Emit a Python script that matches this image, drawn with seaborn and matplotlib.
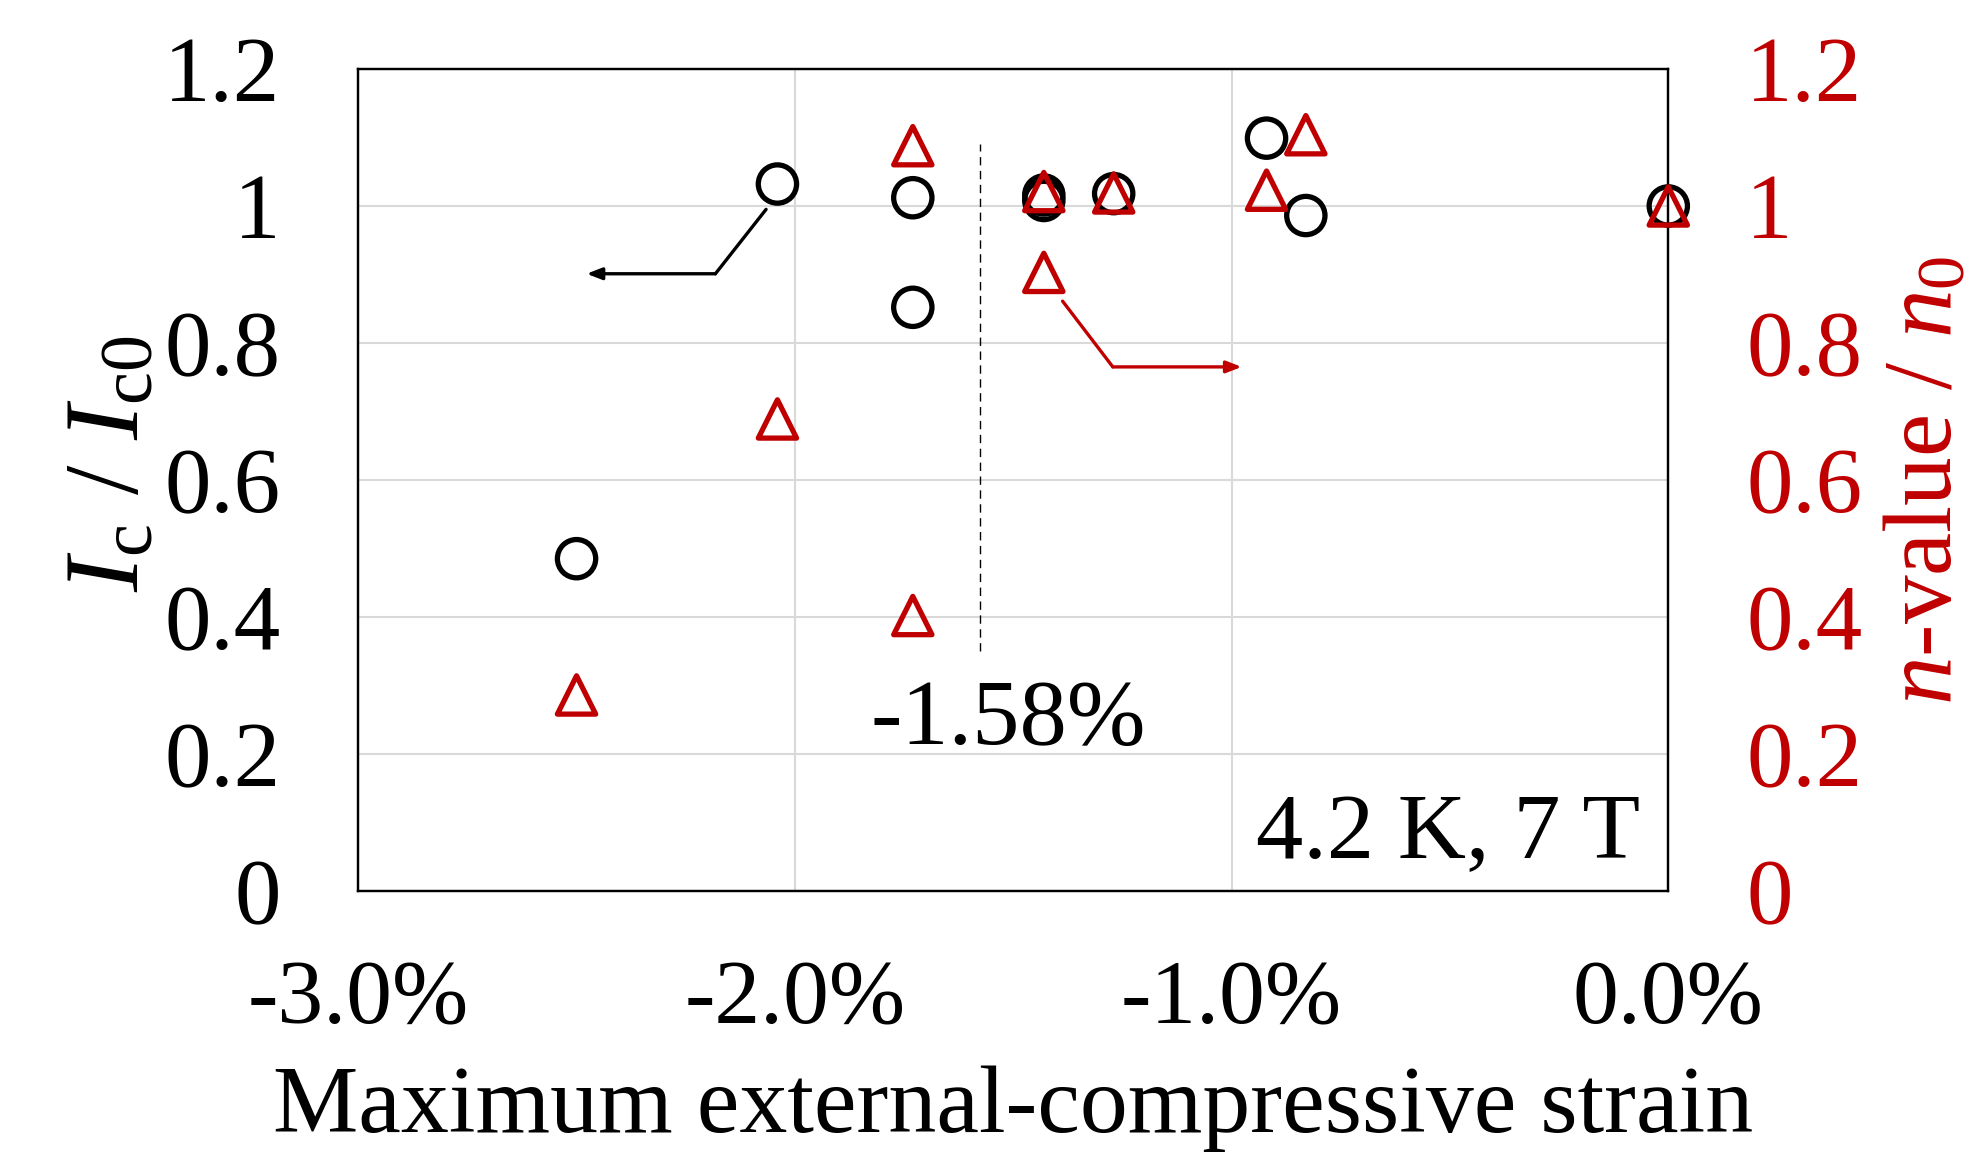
import numpy as np
import matplotlib
matplotlib.use("Agg")
import matplotlib.pyplot as plt
from matplotlib.ticker import FuncFormatter
import seaborn as sns

# Data (strain in %)
ic_strain = [-2.50, -2.04, -1.73, -1.73, -1.43, -1.43, -1.27, -0.92, -0.83, 0.00]
ic_ratio = [0.485, 1.032, 1.012, 0.852, 1.016, 1.008, 1.018, 1.099, 0.986, 1.000]

n_strain = [-2.50, -2.04, -1.73, -1.73, -1.43, -1.43, -1.27, -0.92, -0.83, 0.00]
n_ratio = [0.286, 0.689, 1.088, 0.402, 1.021, 0.903, 1.019, 1.023, 1.104, 1.000]

x_ticks = [-3.0, -2.0, -1.0, 0.0]
y_ticks = [0, 0.2, 0.4, 0.6, 0.8, 1.0, 1.2]
threshold = -1.575

red = "#C00000"

sns.set_style("whitegrid")
plt.rcParams['font.family'] = ['Liberation Serif', 'DejaVu Serif']
plt.rcParams['mathtext.fontset'] = 'custom'
plt.rcParams['mathtext.rm'] = 'Liberation Serif'
plt.rcParams['mathtext.it'] = 'Liberation Serif:italic'
plt.rcParams['text.color'] = 'black'
plt.rcParams['axes.labelcolor'] = 'black'

fig, ax = plt.subplots(figsize=(19.79, 11.63), dpi=100)
fig.subplots_adjust(left=0.181, right=0.843, bottom=0.234, top=0.9407)
ax2 = ax.twinx()

# Ic / Ic0 (open circles)
sns.scatterplot(x=ic_strain, y=ic_ratio, ax=ax, marker='o', s=760,
                facecolor='none', edgecolor='black', linewidth=3.8,
                zorder=3, clip_on=False)
# n-value / n0 (open triangles)
sns.scatterplot(x=n_strain, y=n_ratio, ax=ax2, marker='^', s=760,
                facecolor='none', edgecolor=red, linewidth=3.8,
                zorder=3, clip_on=False)

for a in (ax, ax2):
    a.set_xlim(-3.0, 0.0)
    a.set_ylim(0, 1.2)
    a.set_yticks(y_ticks)
    a.yaxis.set_major_formatter(FuncFormatter(lambda v, p: f"{v:g}"))

ax.set_xticks(x_ticks)
ax.xaxis.set_major_formatter(FuncFormatter(lambda v, p: f"{v:.1f}%"))

ax.grid(True, color='#D9D9D9', lw=1.5)
ax2.grid(False)
for a in (ax, ax2):
    for s in a.spines.values():
        s.set_color('black')
        s.set_linewidth(1.6)

ax.tick_params(axis='y', length=0, pad=56, labelsize=67, colors='black')
ax.tick_params(axis='x', length=0, pad=50, labelsize=66, colors='black')
ax2.tick_params(axis='y', length=0, pad=56, labelsize=67, colors=red)

ax.set_xlabel("Maximum external-compressive strain", fontsize=69, labelpad=16)
ax.set_ylabel(r"$I_\mathrm{c}$ / $I_\mathrm{c0}$", fontsize=76)
ax.yaxis.set_label_coords(-0.15, 0.52)
ax2.set_ylabel(r"$n$-value / $n_0$", fontsize=70, color=red)
ax2.yaxis.label.set_rotation(90)
ax2.yaxis.label.set_verticalalignment('center')
ax2.yaxis.set_label_coords(1.198, 0.5)

# threshold line
ax.plot([threshold, threshold], [0.35, 1.09], color='black', lw=1.0,
        ls=(0, (6, 4)), zorder=2)
ax.text(-1.827, 0.214, "-1.58%", fontsize=68, ha='left', va='baseline')
ax.text(-0.064, 0.048, "4.2 K, 7 T", fontsize=68, ha='right', va='baseline')

# arrows pointing to the axes
arrow = '-|>,head_length=0.9,head_width=0.35'
ax.plot([-2.066, -2.182], [0.995, 0.901], color='black', lw=2.4)
ax.annotate("", xy=(-2.477, 0.901), xytext=(-2.182, 0.901),
            arrowprops=dict(arrowstyle=arrow, color='black', lw=2.4,
                            shrinkA=0, shrinkB=0))
ax.plot([-1.387, -1.272], [0.861, 0.765], color=red, lw=2.4)
ax.annotate("", xy=(-0.977, 0.765), xytext=(-1.272, 0.765),
            arrowprops=dict(arrowstyle=arrow, color=red, lw=2.4,
                            shrinkA=0, shrinkB=0))

fig.savefig("out.png", dpi=100)
